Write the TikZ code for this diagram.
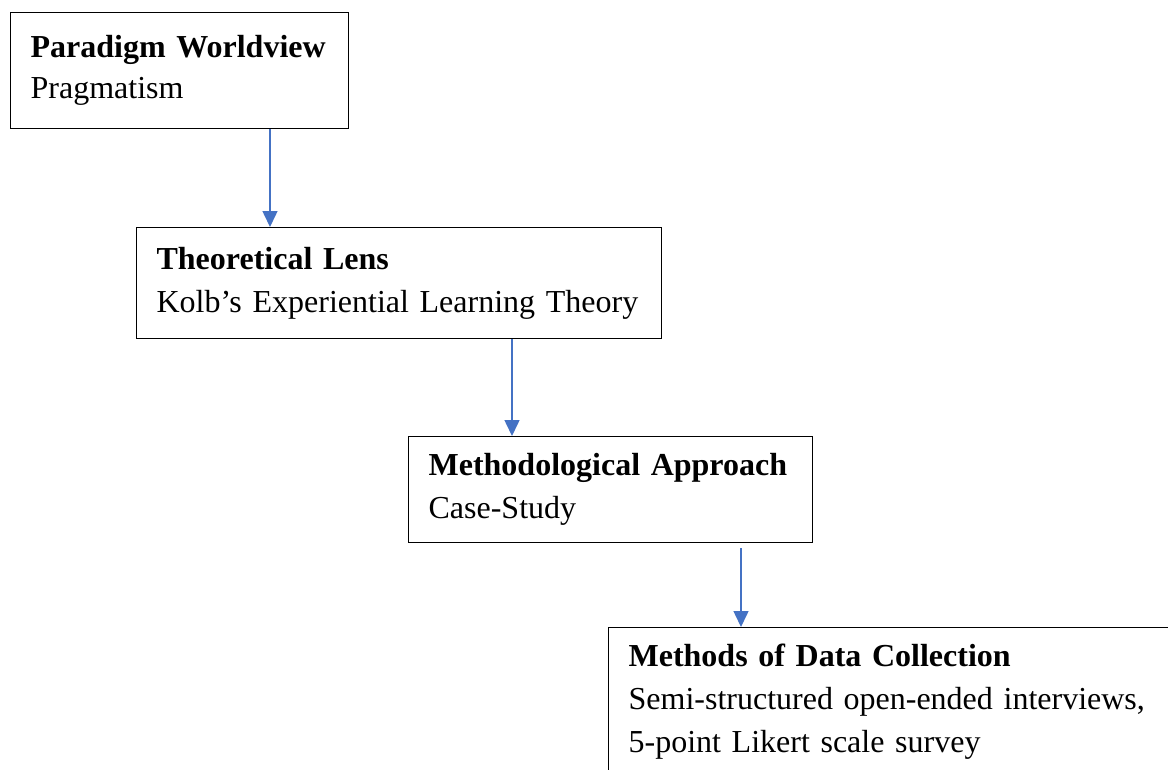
\documentclass[tikz,border=0pt]{standalone}
\usepackage{fontspec}
\setmainfont{Liberation Serif}
\usetikzlibrary{arrows.meta, calc}
\definecolor{flowblue}{RGB}{68,114,196}

\begin{document}
\begin{tikzpicture}[
    x=1pt, y=-1pt,
    stage/.style={draw, line width=1.2pt, anchor=north west, inner xsep=20pt, inner ysep=0pt,
        align=left, font=\fontsize{32}{43}\selectfont},
    flow/.style={draw=flowblue, line width=1.5pt, -{Triangle[width=15pt, length=16pt]}}
]
    \useasboundingbox (0,0) rectangle (1168,769);

    % Stages of the research design
    \node[stage, font=\fontsize{32}{41}\selectfont, text width=298pt, minimum height=116pt] (paradigm) at (10,12)
        {\textbf{Paradigm Worldview}\\Pragmatism};
    \node[stage, text width=485pt, minimum height=111pt] (lens) at (136,227)
        {\textbf{Theoretical Lens}\\Kolb’s Experiential Learning Theory};
    \node[stage, text width=364pt, minimum height=106pt] (approach) at (408,436)
        {\textbf{Methodological Approach}\\Case-Study};
    \node[stage, text width=542pt, minimum height=149pt] (methods) at (608,627)
        {\textbf{Methods of Data Collection}\\Semi-structured open-ended interviews,\\5-point Likert scale survey};

    % Arrows
    \draw[flow] ([xshift=260pt]paradigm.south west) -- ([xshift=260pt]paradigm.south west |- lens.north);
    \draw[flow] ([xshift=376pt]lens.south west) -- ([xshift=376pt]lens.south west |- approach.north);
    \draw[flow, shorten <=5pt] ([xshift=333pt]approach.south west) -- ([xshift=333pt]approach.south west |- methods.north);

\end{tikzpicture}
\end{document}
